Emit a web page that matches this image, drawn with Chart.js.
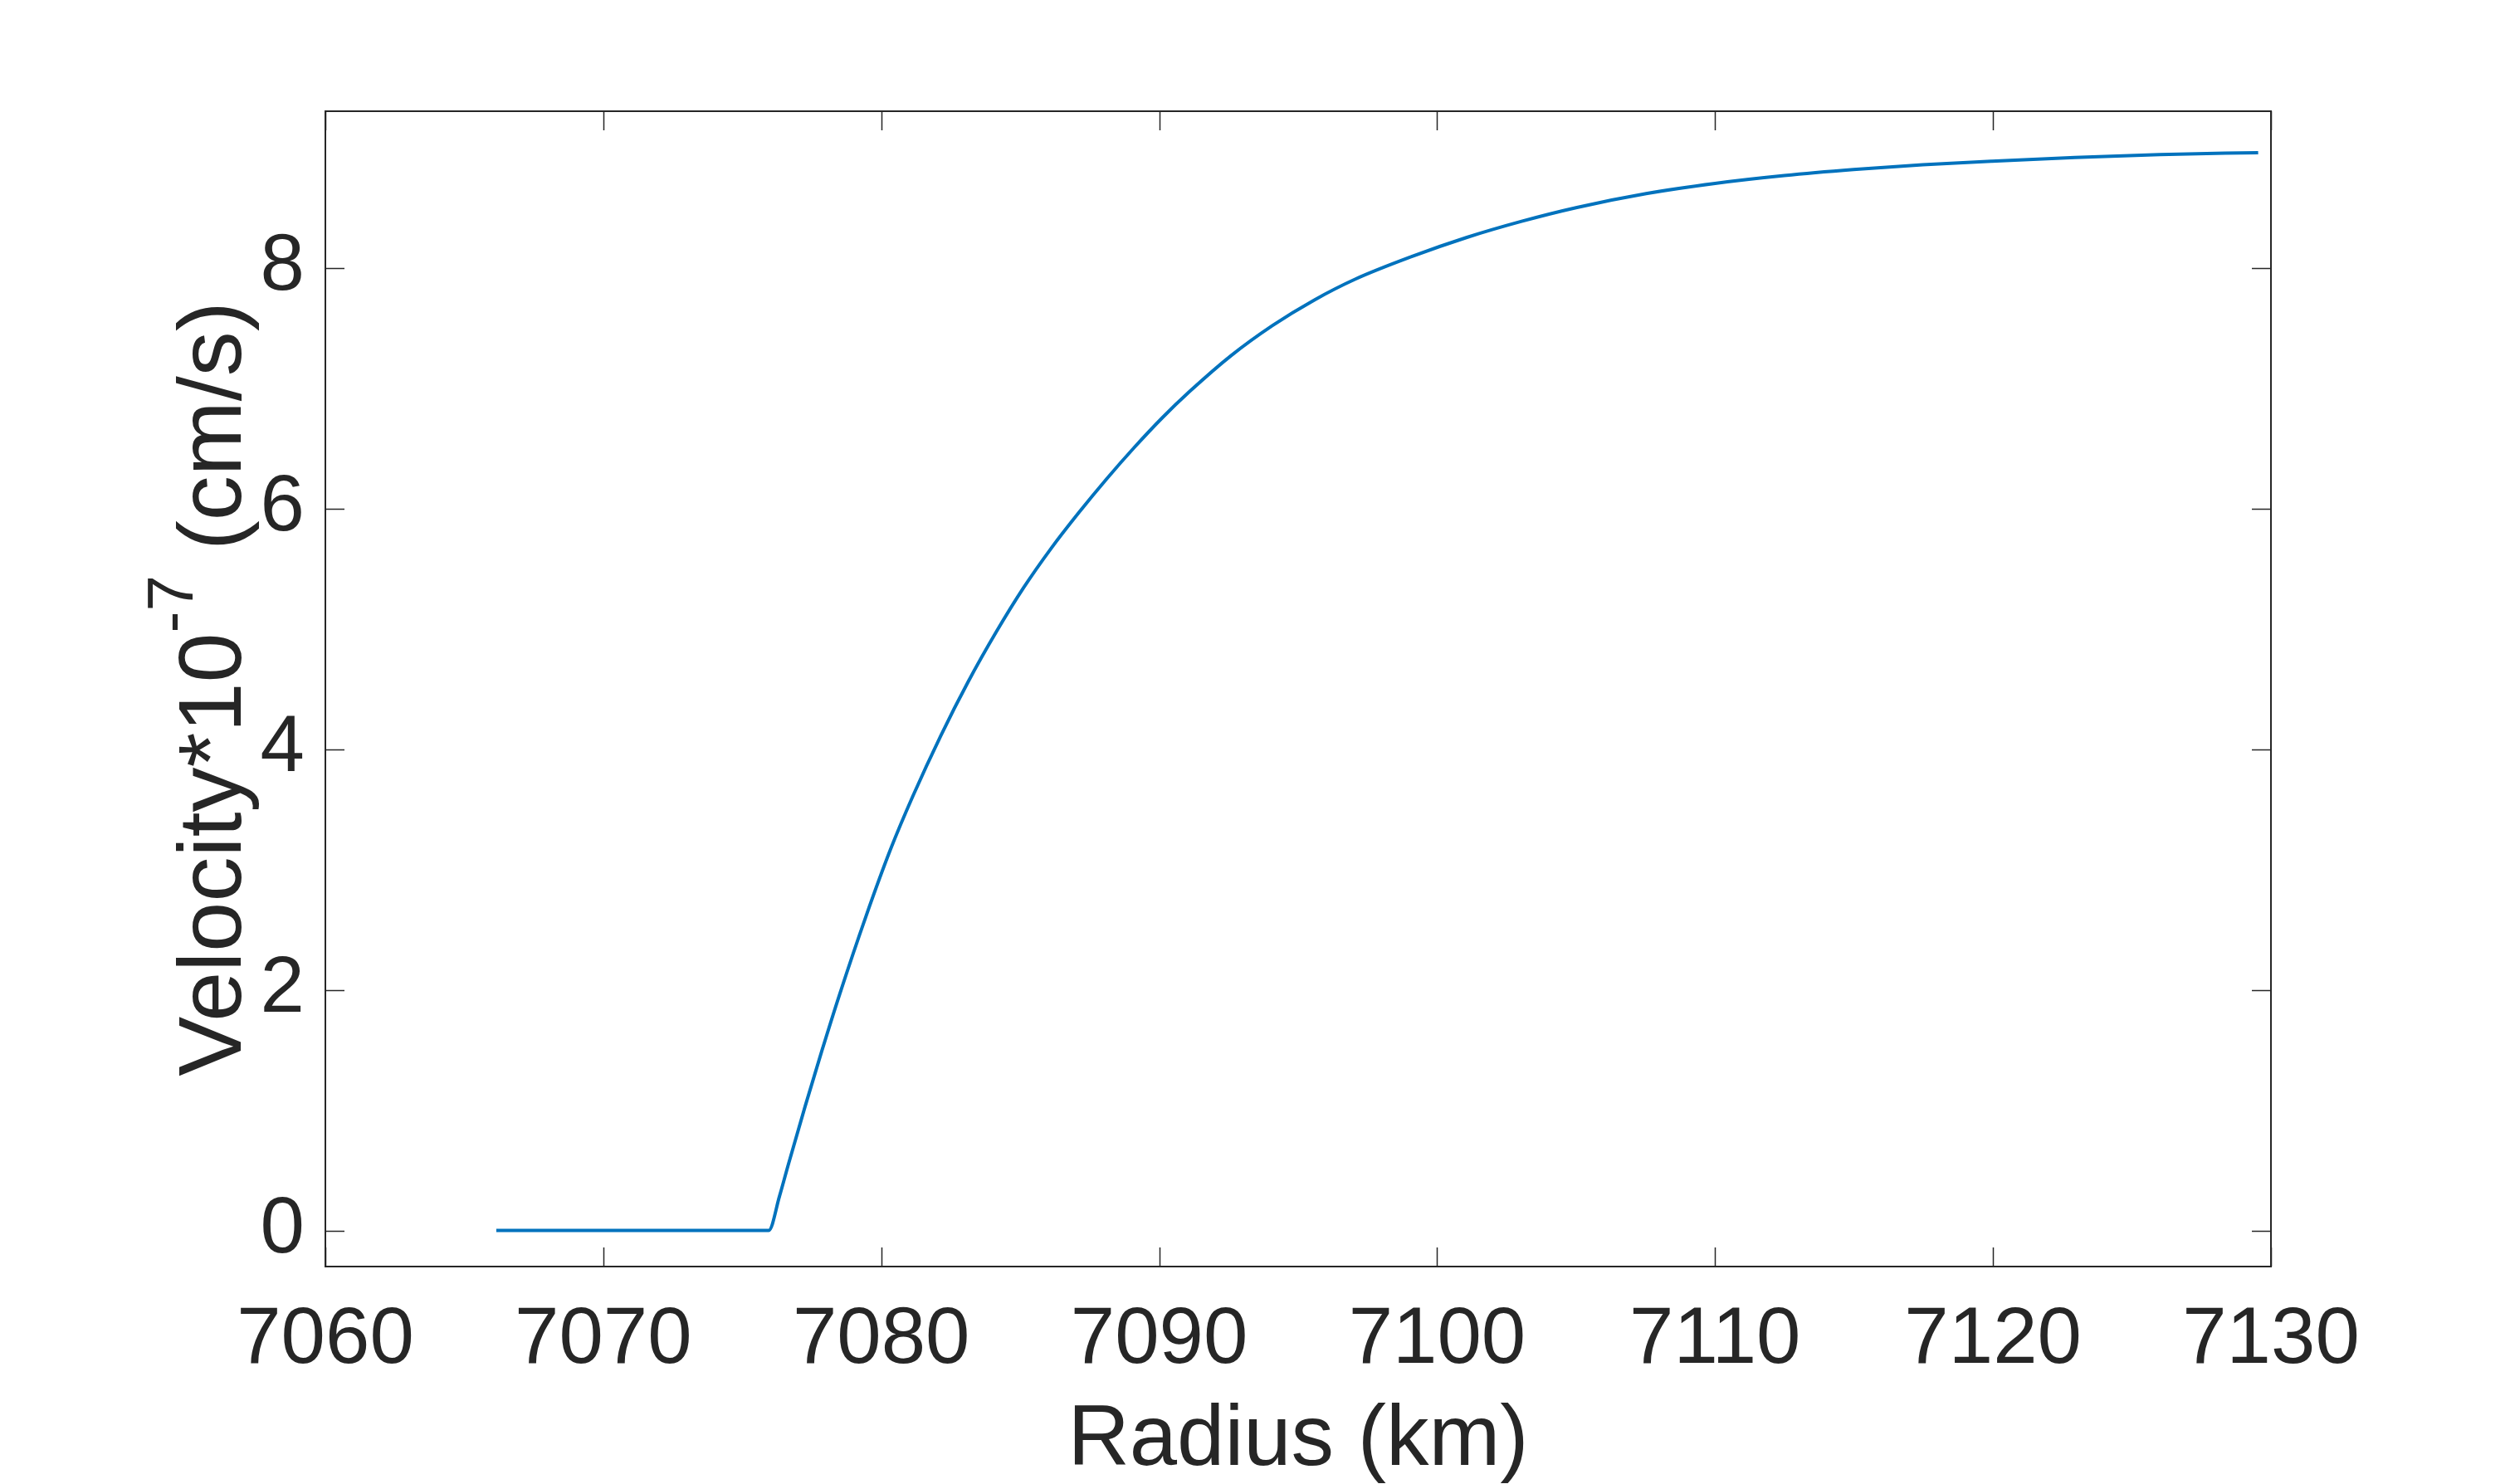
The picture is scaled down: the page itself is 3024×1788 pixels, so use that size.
<!DOCTYPE html>
<html>
<head>
<meta charset="utf-8">
<script src="https://cdn.jsdelivr.net/npm/chart.js@4.4.1/dist/chart.umd.min.js"></script>
<style>
  html, body { margin: 0; padding: 0; background: #ffffff; }
  #velocityChart { display: block; }
</style>
</head>
<body>
<canvas id="velocityChart" width="3024" height="1788"></canvas>
<script>
// radius (km) and velocity*1e-7 (cm/s)
const radiusKm = [
  7066.15, 7068, 7070, 7072, 7074, 7075.95, 7076.34, 7076.66, 7077.26, 7077.86,
  7078.5, 7079.45, 7080.34, 7081.14, 7082.14, 7083.13, 7084.13, 7085.12, 7086.12, 7087.11,
  7088.11, 7089.1, 7090.1, 7091.09, 7092.59, 7094.08, 7095.57, 7097.06, 7099.06, 7101.05,
  7103.04, 7105.03, 7107.52, 7110.0, 7112.49, 7114.98, 7117.47, 7119.96, 7122.94, 7126.0,
  7129.54,
];
const velocity = [
  0, 0, 0, 0, 0, 0, 0.285, 0.55, 1.03, 1.49,
  1.96, 2.61, 3.17, 3.61, 4.11, 4.56, 4.97, 5.34, 5.67, 5.965,
  6.245, 6.505, 6.75, 6.97, 7.27, 7.52, 7.73, 7.905, 8.09, 8.25,
  8.385, 8.5, 8.615, 8.7, 8.765, 8.815, 8.855, 8.885, 8.915, 8.94,
  8.956,
];
const xTicks = [7060, 7070, 7080, 7090, 7100, 7110, 7120, 7130];
const yTicks = [0, 2, 4, 6, 8];

const INK = "#262626";
const FONT = "'Liberation Sans', Arial, Helvetica, sans-serif";

const points = radiusKm.map((r, i) => ({ x: r, y: velocity[i] }));

// box, inward ticks on all four sides, and the two axis titles
const framePlugin = {
  id: "frame",
  afterDraw(chart) {
    const { ctx, chartArea: a, scales } = chart;
    const tickLen = 23;
    ctx.save();
    ctx.strokeStyle = INK;
    ctx.lineWidth = 2;
    ctx.strokeRect(a.left, a.top, a.right - a.left, a.bottom - a.top);

    ctx.beginPath();
    xTicks.forEach((t) => {
      const px = Math.round(scales.x.getPixelForValue(t)) + 0.5;
      ctx.moveTo(px, a.bottom);
      ctx.lineTo(px, a.bottom - tickLen);
      ctx.moveTo(px, a.top);
      ctx.lineTo(px, a.top + tickLen);
    });
    yTicks.forEach((t) => {
      const py = Math.round(scales.y.getPixelForValue(t)) + 0.5;
      ctx.moveTo(a.left, py);
      ctx.lineTo(a.left + tickLen, py);
      ctx.moveTo(a.right, py);
      ctx.lineTo(a.right - tickLen, py);
    });
    ctx.lineWidth = 1.5;
    ctx.stroke();

    ctx.fillStyle = INK;

    // x title
    ctx.font = `103px ${FONT}`;
    ctx.textAlign = "center";
    ctx.textBaseline = "alphabetic";
    ctx.fillText("Radius (km)", (a.left + a.right) / 2, 1765);

    // y title with raised exponent
    const mainFont = `108px ${FONT}`;
    const supFont = `78px ${FONT}`;
    const partA = "Velocity*10";
    const partSup = "-7";
    const partB = " (cm/s)";
    ctx.font = mainFont;
    const wA = ctx.measureText(partA).width;
    const wB = ctx.measureText(partB).width;
    ctx.font = supFont;
    const wS = ctx.measureText(partSup).width;
    const total = wA + wS + wB;

    ctx.translate(290, (a.top + a.bottom) / 2);
    ctx.rotate(-Math.PI / 2);
    ctx.textAlign = "left";
    let x0 = -total / 2;
    ctx.font = mainFont;
    ctx.fillText(partA, x0, 0);
    x0 += wA;
    ctx.font = supFont;
    ctx.fillText(partSup, x0, -58);
    x0 += wS;
    ctx.font = mainFont;
    ctx.fillText(partB, x0, 0);
    ctx.restore();
  },
};

new Chart(document.getElementById("velocityChart"), {
  type: "scatter",
  data: {
    datasets: [
      {
        data: points,
        showLine: true,
        borderColor: "#0072BD",
        borderWidth: 4,
        pointRadius: 0,
        cubicInterpolationMode: "monotone",
        fill: false,
      },
    ],
  },
  options: {
    responsive: false,
    animation: false,
    devicePixelRatio: 1,
    layout: { padding: { top: 134, right: 288, left: 0, bottom: 0 } },
    plugins: {
      legend: { display: false },
      tooltip: { enabled: false },
    },
    scales: {
      x: {
        type: "linear",
        min: 7060,
        max: 7130,
        afterBuildTicks: (scale) => {
          scale.ticks = xTicks.map((v) => ({ value: v }));
        },
        afterFit: (scale) => {
          scale.height = 262;
        },
        grid: { display: false, drawTicks: false },
        border: { display: false },
        ticks: {
          color: INK,
          font: { family: FONT, size: 96 },
          padding: 32,
          maxRotation: 0,
          autoSkip: false,
          callback: (v) => String(v),
        },
      },
      y: {
        type: "linear",
        min: -0.3,
        max: 9.3,
        afterBuildTicks: (scale) => {
          scale.ticks = yTicks.map((v) => ({ value: v }));
        },
        afterFit: (scale) => {
          scale.width = 392;
        },
        grid: { display: false, drawTicks: false },
        border: { display: false },
        ticks: {
          color: INK,
          font: { family: FONT, size: 96 },
          padding: 25,
          autoSkip: false,
          callback: (v) => String(v),
        },
      },
    },
  },
  plugins: [framePlugin],
});
</script>
</body>
</html>
